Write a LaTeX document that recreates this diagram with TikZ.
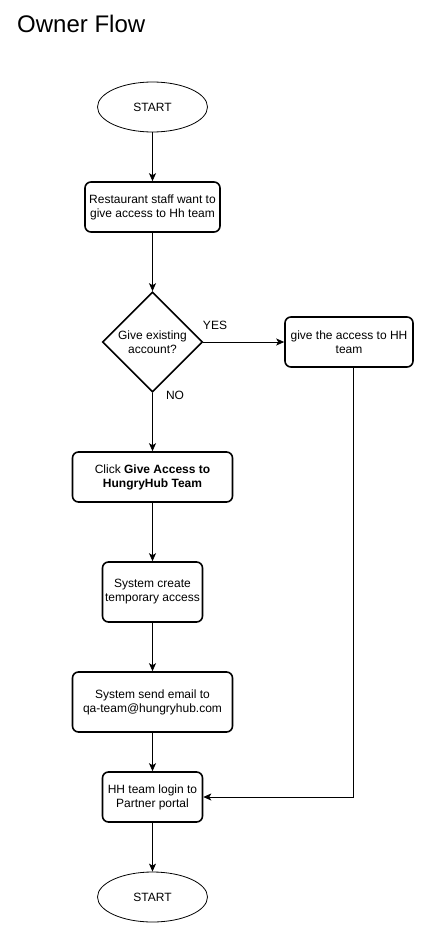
\documentclass[tikz,border=0pt]{standalone}
\usepackage{fontspec}
\setmainfont{Liberation Sans}
\usetikzlibrary{shapes.geometric,arrows.meta}
\begin{document}
\begin{tikzpicture}[x=1pt,y=-1pt,
  every node/.style={font=\fontsize{12}{14}\selectfont, align=center, inner sep=0pt},
  term/.style={draw, ellipse, line width=0.8pt, minimum width=110pt, minimum height=50pt},
  proc/.style={draw, rounded corners=6pt, line width=1.6pt},
  dec/.style={draw, diamond, line width=1.6pt, minimum width=100pt, minimum height=100pt, aspect=1},
  conn/.style={line width=0.8pt, -{Stealth[length=8pt,width=7pt,inset=2pt]}},
  lbl/.style={font=\fontsize{12}{14}\selectfont}
]
\useasboundingbox (0,0) rectangle (420,928);
\node[anchor=base west, font=\fontsize{24}{28}\selectfont] (title) at (17,33) {Owner Flow};

\node[term] (s1) at (152.5,107) {START};
\node[proc, minimum width=135pt, minimum height=50pt] (b1) at (152.5,207) {Restaurant staff want to\\give access to Hh team};
\node[dec] (d) at (152.5,342) {Give existing\\account?};
\node[proc, minimum width=128pt, minimum height=50pt] (r) at (349,342) {give the access to HH\\team};
\node[proc, minimum width=160pt, minimum height=50pt] (b2) at (152.5,477) {Click \textbf{Give Access to}\\\textbf{HungryHub Team}};
\node[proc, minimum width=100pt, minimum height=60pt] (b3) at (152.5,592) {System create\\temporary access};
\node[proc, minimum width=160pt, minimum height=60pt] (b4) at (152.5,702) {System send email to\\qa-team@hungryhub.com};
\node[proc, minimum width=100pt, minimum height=50pt] (b5) at (152.5,797) {HH team login to\\Partner portal};
\node[term] (s2) at (152.5,897) {START};

\node[lbl] (yes) at (215,325) {YES};
\node[lbl] (no) at (175,395) {NO};

\draw[conn] (s1.south) -- (b1.north);
\draw[conn] (b1.south) -- (d.north);
\draw[conn] (d.east) -- (r.west);
\draw[conn] (d.south) -- (b2.north);
\draw[conn] (b2.south) -- (b3.north);
\draw[conn] (b3.south) -- (b4.north);
\draw[conn] (b4.south) -- (b5.north);
\draw[conn] (b5.south) -- (s2.north);
\coordinate (rc) at (353,367);
\draw[conn] (rc) -- (rc |- b5.east) -- (b5.east);
\end{tikzpicture}
\end{document}
